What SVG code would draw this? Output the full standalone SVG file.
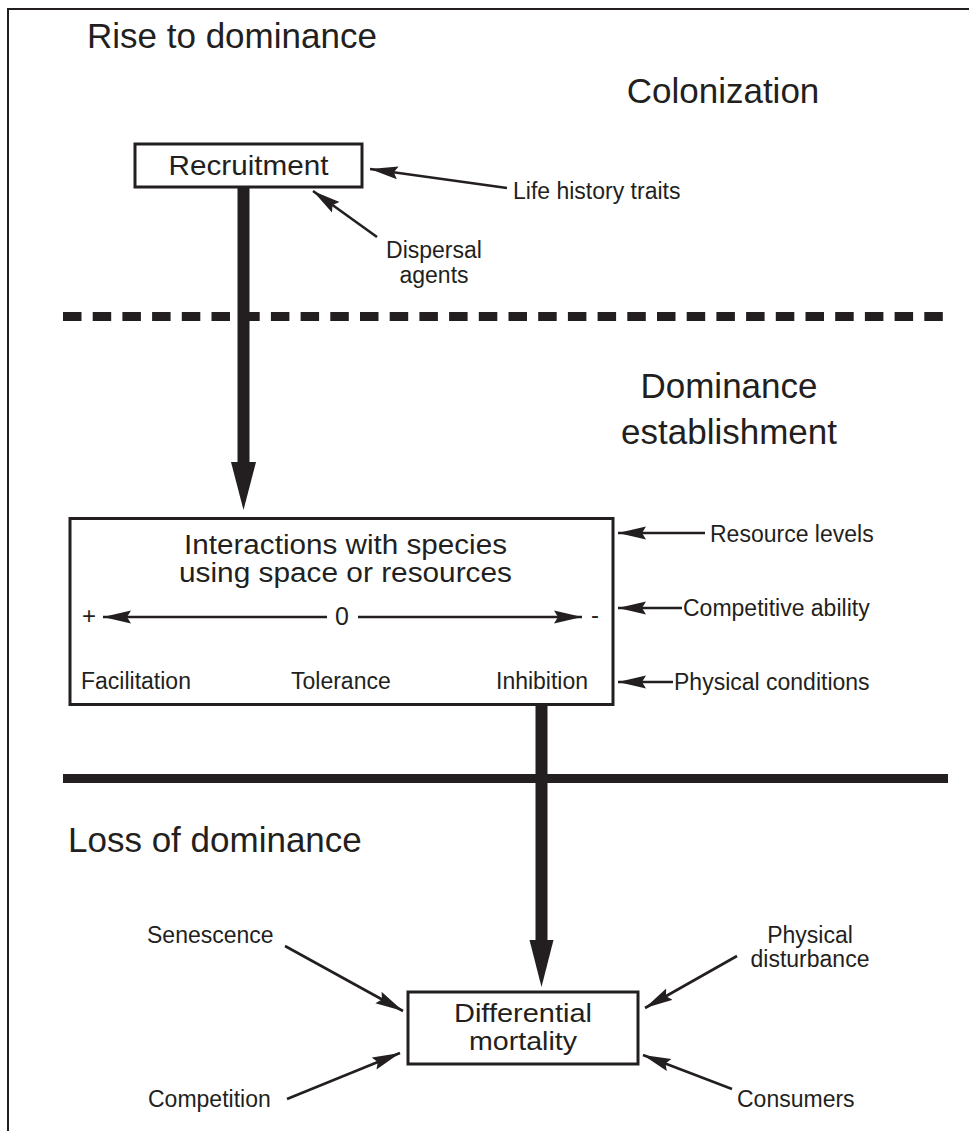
<svg xmlns="http://www.w3.org/2000/svg" width="969" height="1131" viewBox="0 0 969 1131">
<style>
text{font-family:"Liberation Sans",Arial,Helvetica,sans-serif;fill:#231f20}
.title{font-size:35px}
.box-t{font-size:27px;text-anchor:middle}
.lbl{font-size:23px}
.mid{text-anchor:middle}
.box{fill:#fff;stroke:#231f20;stroke-width:3}
.thin{stroke:#231f20;stroke-width:2.6;fill:none;marker-end:url(#ah)}
.thick{stroke:#231f20;stroke-width:12;fill:none}
.head{fill:#231f20}
</style>
<defs>
<marker id="ah" markerWidth="30" markerHeight="14" refX="28" refY="7" orient="auto" markerUnits="userSpaceOnUse">
<path d="M0,0.5 L28,7 L0,13.5 L4,7 z" fill="#231f20"/>
</marker>
</defs>
<rect width="969" height="1131" fill="#fff"/>
<g id="frame" stroke="#231f20" stroke-width="2" fill="none">
<path d="M8,1131 L8,9 L969,9"/>
</g>
<g id="section-labels">
<text class="title" x="87" y="48">Rise to dominance</text>
<text class="title mid" x="723" y="103">Colonization</text>
<text class="title mid" x="729" y="398">Dominance</text>
<text class="title mid" x="729" y="444">establishment</text>
<text class="title" x="68" y="852">Loss of dominance</text>
</g>
<g id="dividers">
<line x1="63" y1="316.5" x2="944" y2="316.5" stroke="#231f20" stroke-width="9" stroke-dasharray="18.5 11.2"/>
<line x1="63" y1="778.5" x2="948" y2="778.5" stroke="#231f20" stroke-width="9"/>
</g>
<g id="recruitment">
<rect class="box" x="135" y="144" width="227" height="43"/>
<text class="box-t" x="248.5" y="175" textLength="160" lengthAdjust="spacingAndGlyphs" style="font-size:28px">Recruitment</text>
</g>
<g id="life-history">
<text class="lbl" x="513" y="199">Life history traits</text>
</g>
<g id="dispersal">
<text class="lbl mid" x="434" y="258">Dispersal</text>
<text class="lbl mid" x="434" y="283">agents</text>
</g>
<g id="interactions">
<rect class="box" x="70" y="518.5" width="543" height="186"/>
<text class="box-t" x="345.5" y="554" textLength="323" lengthAdjust="spacingAndGlyphs">Interactions with species</text>
<text class="box-t" x="345.5" y="582" textLength="333" lengthAdjust="spacingAndGlyphs">using space or resources</text>
<text x="82" y="624" style="font-size:24px">+</text>
<text x="342" y="625" style="font-size:25px;text-anchor:middle">0</text>
<text x="591" y="623" style="font-size:24px">-</text>
<text class="lbl" x="81" y="689">Facilitation</text>
<text class="lbl" x="291" y="689">Tolerance</text>
<text class="lbl" x="496" y="689">Inhibition</text>
</g>
<g id="resource-levels"><text class="lbl" x="710" y="542">Resource levels</text></g>
<g id="competitive-ability"><text class="lbl" x="683" y="616">Competitive ability</text></g>
<g id="physical-conditions"><text class="lbl" x="674" y="690">Physical conditions</text></g>
<g id="differential-mortality">
<rect class="box" x="408" y="992" width="230" height="72"/>
<text class="box-t" x="523" y="1022" textLength="138" lengthAdjust="spacingAndGlyphs" style="font-size:26px">Differential</text>
<text class="box-t" x="523" y="1050" textLength="108" lengthAdjust="spacingAndGlyphs" style="font-size:26px">mortality</text>
</g>
<g id="senescence"><text class="lbl" x="147" y="943">Senescence</text></g>
<g id="competition"><text class="lbl" x="148" y="1107">Competition</text></g>
<g id="physical-disturbance">
<text class="lbl mid" x="810" y="943">Physical</text>
<text class="lbl mid" x="810" y="967">disturbance</text>
</g>
<g id="consumers"><text class="lbl" x="737" y="1107">Consumers</text></g>
<g id="connectors">
<line class="thick" x1="243.5" y1="188" x2="243.5" y2="466"/>
<polygon class="head" points="231,462 256,462 243.5,510"/>
<line class="thick" x1="541.5" y1="706" x2="541.5" y2="944"/>
<polygon class="head" points="529.5,940 553.5,940 541.5,987"/>
<line class="thin" x1="507" y1="188" x2="370" y2="169"/>
<line class="thin" x1="377" y1="237" x2="313" y2="191"/>
<line class="thin" x1="705" y1="533" x2="618" y2="533"/>
<line class="thin" x1="682" y1="608" x2="618" y2="608"/>
<line class="thin" x1="673" y1="682" x2="618" y2="682"/>
<line class="thin" x1="327" y1="617" x2="103" y2="617"/>
<line class="thin" x1="358" y1="617" x2="582" y2="617"/>
<line class="thin" x1="285" y1="946" x2="403" y2="1011"/>
<line class="thin" x1="287" y1="1099" x2="400" y2="1053"/>
<line class="thin" x1="737" y1="956" x2="645" y2="1008"/>
<line class="thin" x1="732" y1="1089" x2="643" y2="1055"/>
</g>
</svg>
